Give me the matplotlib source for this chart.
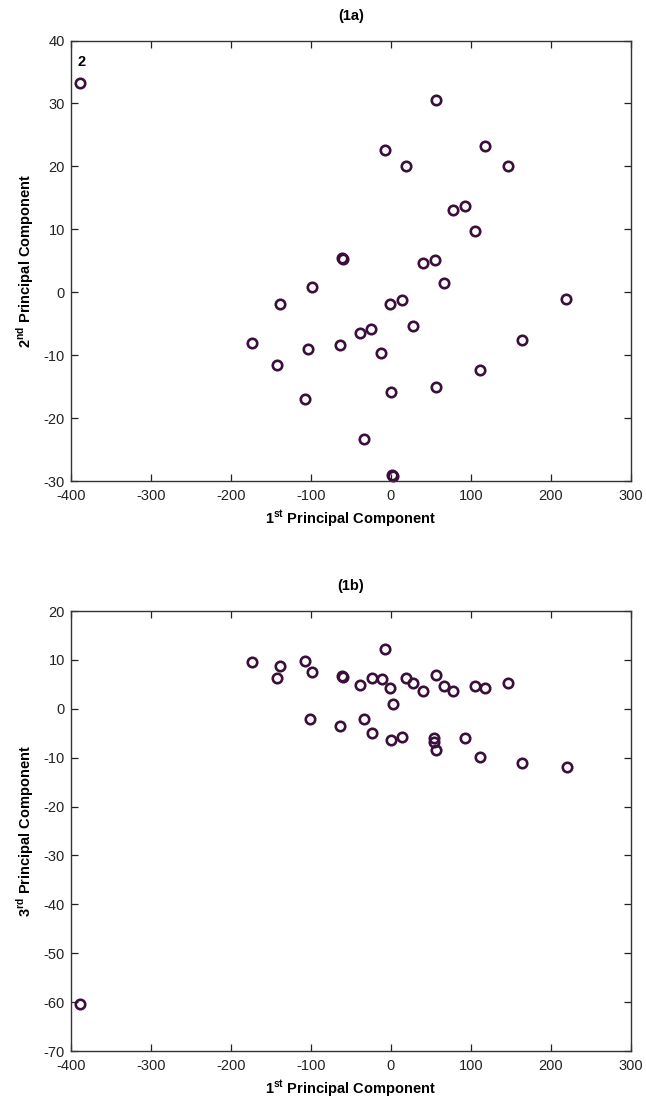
import matplotlib
matplotlib.use("Agg")
import matplotlib.pyplot as plt

plt.rcParams['font.family'] = ['Liberation Sans', 'DejaVu Sans']
plt.rcParams['mathtext.fontset'] = 'custom'
plt.rcParams['mathtext.rm'] = 'Liberation Sans'
plt.rcParams['mathtext.bf'] = 'Liberation Sans:bold'
plt.rcParams['axes.unicode_minus'] = False

# ---- data (1a): PC1 vs PC2 ----
pc1_a = [-388, -174, -138, -142, -107, -98, -60.5, -60, -39, -25, -12, -1, -7,
         2, 3, 19, 28, 40, 57, 67, 78, 93, 105, 118, 146, -103, -63, -33,
         0.4, 14, 54.6, 56, 111, 164, 219]
pc2_a = [33.2, -8.05, -1.84, -11.5, -16.9, 0.8, 5.5, 5.3, -6.4, -5.9, -9.7, -1.84, 22.6,
         -29.0, -29.2, 20.1, -5.3, 4.7, 30.6, 1.4, 13.0, 13.7, 9.7, 23.2, 20.1, -9.05, -8.4, -23.4,
         -15.9, -1.16, 5.2, -15.1, -12.4, -7.6, -1.05]

# ---- data (1b): PC1 vs PC3 ----
pc1_b = [-388, -174, -138, -142, -107, -98, -60.5, -60, -39, -23, -11, -1, -7,
         3, 19, 28, 40, 57, 67, 78, 105, 118, 146, -101, -63, -33, -24,
         0.5, 14, 54, 54, 57, 93, 111, 164, 220]
pc3_b = [-60.4, 9.5, 8.7, 6.4, 9.7, 7.6, 6.8, 6.6, 4.9, 6.4, 6.1, 4.2, 12.3,
         1.0, 6.4, 5.3, 3.7, 6.9, 4.7, 3.7, 4.7, 4.3, 5.3, -2.1, -3.6, -2.1, -5.0,
         -6.4, -5.8, -6.0, -6.8, -8.4, -6.0, -9.9, -11.0, -11.8]

x_ticks = [-400, -300, -200, -100, 0, 100, 200, 300]
y_ticks_a = [-30, -20, -10, 0, 10, 20, 30, 40]
y_ticks_b = [-70, -60, -50, -40, -30, -20, -10, 0, 10, 20]

label_point = (-388, 33.2, '2')

mcol = '#3a0f3c'

fig = plt.figure(figsize=(6.46, 11.01), dpi=100)
ax1 = fig.add_axes([0.1094, 0.5631, 0.8674, 0.4001])
ax2 = fig.add_axes([0.1094, 0.0454, 0.8674, 0.3996])


def style(ax, yticks, title, ylab):
    ax.set_xlim(-400, 300)
    ax.set_ylim(yticks[0], yticks[-1])
    ax.set_xticks(x_ticks)
    ax.set_yticks(yticks)
    ax.tick_params(direction='in', top=True, right=True, length=5, width=0.9,
                   labelsize=10.5, colors='#222222')
    ax.tick_params(axis='x', pad=6)
    ax.tick_params(axis='y', pad=4)
    for s in ax.spines.values():
        s.set_linewidth(1.0)
        s.set_color('#333333')
    ax.set_title(title, fontsize=10.5, fontweight='bold', pad=15)
    ax.set_xlabel('1$^{\\mathbf{st}}$ Principal Component', fontsize=10.5,
                  fontweight='bold', labelpad=3.5)
    ax.set_ylabel(ylab, fontsize=10.5, fontweight='bold', labelpad=6)


ax1.plot(pc1_a, pc2_a, 'o', ms=6.8, mfc='none', mec=mcol, mew=1.9, clip_on=False)
ax1.text(label_point[0] + 2, label_point[1] + 2.2, label_point[2], fontsize=10.5,
         fontweight='bold', ha='center', va='bottom')
style(ax1, y_ticks_a, '(1a)', '2$^{\\mathbf{nd}}$ Principal Component')

ax2.plot(pc1_b, pc3_b, 'o', ms=6.8, mfc='none', mec=mcol, mew=1.9, clip_on=False)
style(ax2, y_ticks_b, '(1b)', '3$^{\\mathbf{rd}}$ Principal Component')

fig.savefig('out.png', dpi=100)
